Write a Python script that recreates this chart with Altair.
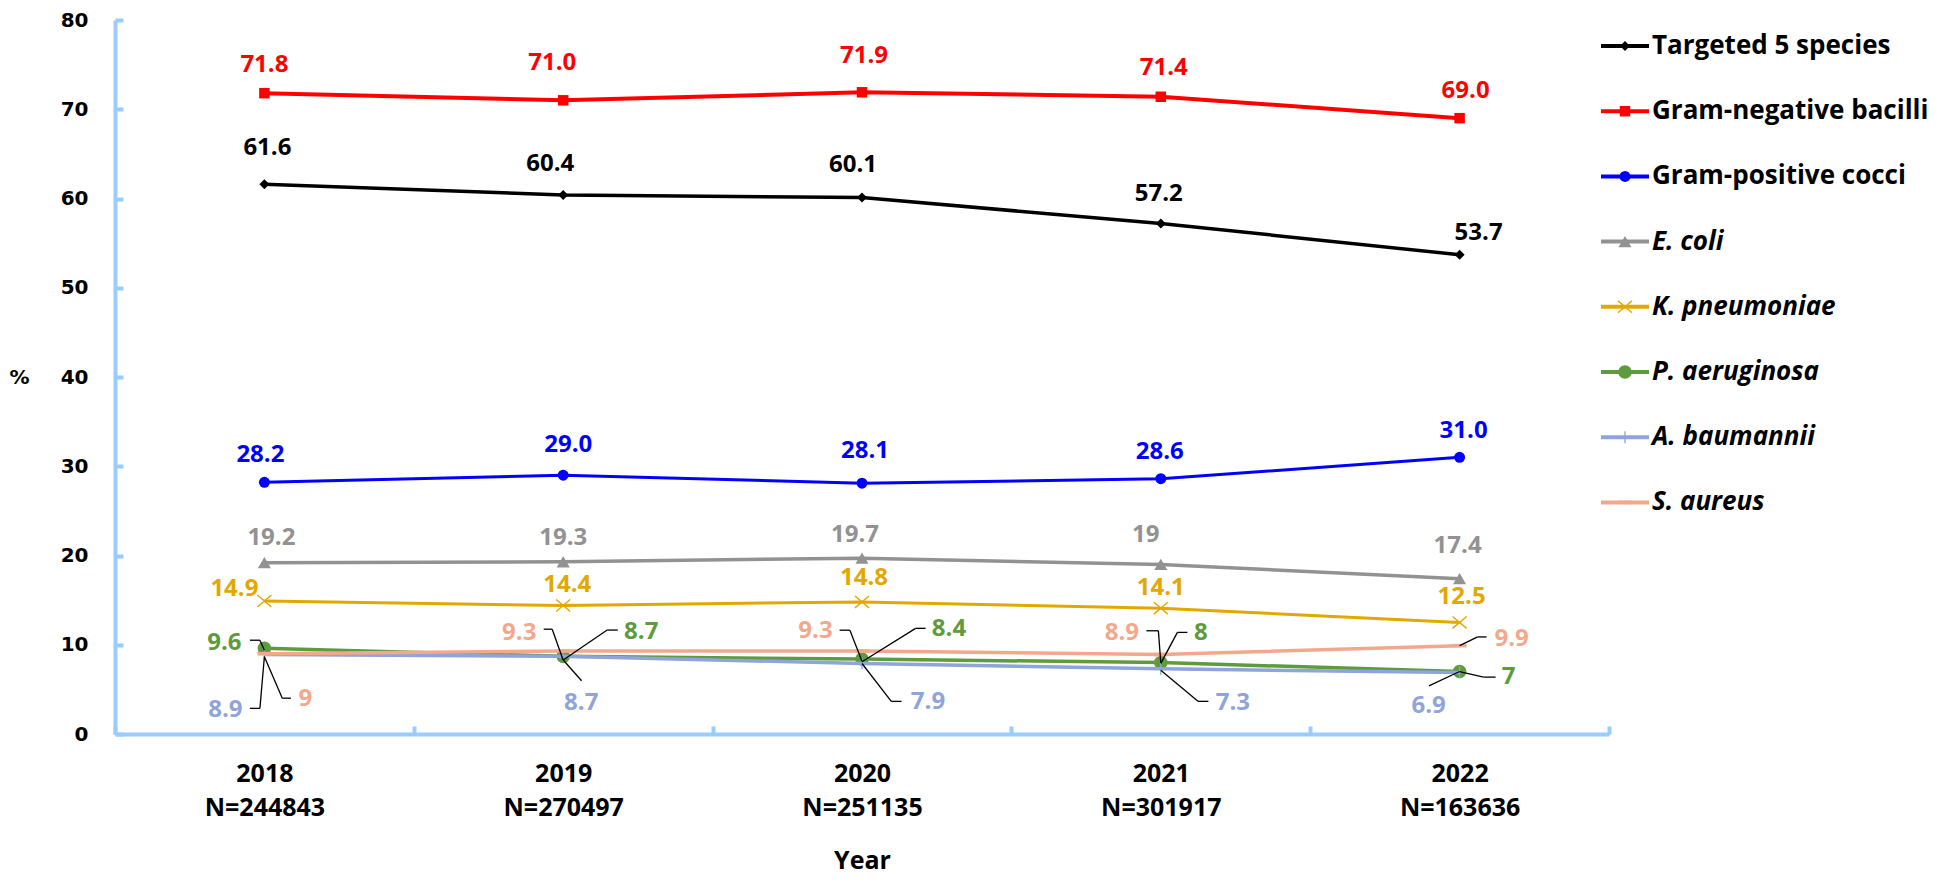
import json
import altair as alt
import pandas as pd

# ---------------- data ----------------
years = ["2018", "2019", "2020", "2021", "2022"]
n_counts = ["N=244843", "N=270497", "N=251135", "N=301917", "N=163636"]

series_names = ["Targeted 5 species", "Gram-negative bacilli", "Gram-positive cocci",
                "E. coli", "K. pneumoniae", "P. aeruginosa", "A. baumannii", "S. aureus"]

targeted_5 = [61.6, 60.4, 60.1, 57.2, 53.7]
gram_negative = [71.8, 71.0, 71.9, 71.4, 69.0]
gram_positive = [28.2, 29.0, 28.1, 28.6, 31.0]
e_coli = [19.2, 19.3, 19.7, 19.0, 17.4]
k_pneumoniae = [14.9, 14.4, 14.8, 14.1, 12.5]
p_aeruginosa = [9.6, 8.7, 8.4, 8.0, 7.0]
a_baumannii = [8.9, 8.7, 7.9, 7.3, 6.9]
s_aureus = [9.0, 9.3, 9.3, 8.9, 9.9]

series_values = [targeted_5, gram_negative, gram_positive, e_coli,
                 k_pneumoniae, p_aeruginosa, a_baumannii, s_aureus]
one_decimal_series = ["Targeted 5 species", "Gram-negative bacilli", "Gram-positive cocci"]
italic_series = ["E. coli", "K. pneumoniae", "P. aeruginosa", "A. baumannii", "S. aureus"]

y_ticks = [0, 10, 20, 30, 40, 50, 60, 70, 80]

# ---------------- layout / style ----------------
W, H = 1494, 714
PPX = W / len(years)
PPY = H / 80.0

colors = ["#000000", "#FF0000", "#0000FF", "#929292", "#E3A800", "#5E9B3C", "#8EA4DA", "#F3A88C"]
line_widths = [3.5, 4, 3, 3.5, 3, 3.5, 3.5, 3.5]
marker_shapes = ["diamond", "square", "circle", "triangle-up",
                 "M-1,-0.85L1,0.85M-1,0.85L1,-0.85", "circle",
                 "M-1,0L1,0M0,-1L0,1", "M-1,0L1,0"]
marker_sizes = [100, 110, 120, 170, 196, 185, 144, 196]
marker_filled = [True, True, True, True, False, True, False, False]
marker_strokes = [1, 1, 1, 1, 1.4, 1, 1.3, 3.5]

# label centre offsets in screen px (dx right, dy down) relative to each point
label_offsets = {
    "Targeted 5 species": [(3, -36), (-13, -31), (-9, -32.5), (-2, -29), (19, -22)],
    "Gram-negative bacilli": [(0, -28), (-11, -37), (2, -36), (3, -29), (6, -27)],
    "Gram-positive cocci": [(-4, -27), (5, -30), (3, -32), (-1, -27), (4, -26)],
    "E. coli": [(7, -25), (0, -24), (-7, -23), (-15, -29), (-2, -33)],
    "K. pneumoniae": [(-30, -12), (4, -20), (2, -24), (0, -20), (2, -25)],
    "P. aeruginosa": [(-40, -5), (78, -24), (87, -30), (40, -30), (49, 5.6)],
    "A. baumannii": [(-39, 55.5), (18, 47), (66, 38.5), (72, 34), (-31, 34)],
    "S. aureus": [(41, 45), (-44, -18), (-46.5, -20), (-39, -22), (52, -7)],
}
# leader lines: (label end A, elbow B, end P) offsets in screen px relative to each point
leader_offsets = {
    "P. aeruginosa": [((-14.5, -8.1), (-4.5, -8.1), (0, 1.9)),
                      ((54.6, -26.3), (44, -26.3), (0, 3.7)),
                      ((63.6, -30.7), (53.6, -30.7), (0, 2.7)),
                      ((26.6, -30.2), (16.6, -30.2), (0, 0.8)),
                      ((36, 5.6), (24, 5.6), (0, 0))],
    "A. baumannii": [((-14.5, 53.8), (-4.5, 53.8), (0, 2)),
                     ((18.4, 24.4), (18.4, 24.4), (0, 3.7)),
                     ((39.6, 37.9), (29.3, 37.9), (0, 0)),
                     ((47.6, 32.5), (37.2, 32.5), (0, 1.4)),
                     ((-30.7, 13.4), (-30.7, 13.4), (0, -0.9))],
    "S. aureus": [((26.5, 44.5), (17.9, 44.5), (0, 3)),
                  ((-19.5, -21.8), (-11, -21.8), (0, 9.2)),
                  ((-22.4, -20.8), (-12.1, -20.8), (0, 10.2)),
                  ((-14.4, -23.8), (-2.4, -23.8), (0, 8.5)),
                  ((27, -8.7), (18, -8.7), (0, 0))],
}

AXIS_BLUE = "#99CCFF"
LABEL_FONT = "Open Sans"

# ---------------- tables ----------------
rows = []
for s, vals in zip(series_names, series_values):
    for i, v in enumerate(vals):
        txt = f"{v:.1f}" if s in one_decimal_series else f"{v:g}"
        dx, dy = label_offsets[s][i]
        rows.append(dict(series=s, idx=i, value=v, text=txt,
                         lx=i + dx / PPX, ly=v - dy / PPY))
df = pd.DataFrame(rows)

lrows = []
for s, vals in zip(series_names, series_values):
    if s not in leader_offsets:
        continue
    for i, v in enumerate(vals):
        (ax, ay), (bx, by), (px, py) = leader_offsets[s][i]
        lrows.append(dict(series=s,
                          xa=i + ax / PPX, ya=v - ay / PPY,
                          xb=i + bx / PPX, yb=v - by / PPY,
                          xp=i + px / PPX, yp=v - py / PPY))
leaders = pd.DataFrame(lrows)

legend_df = pd.DataFrame(dict(series=series_names,
                              italic=[s in italic_series for s in series_names]))

# ---------------- scales / axes ----------------
label_pairs = [[y, n] for y, n in zip(years, n_counts)] + [[""]]
x_label_expr = json.dumps(label_pairs) + "[round(datum.value + 0.5)]"

x_scale = alt.Scale(domain=[-0.5, len(years) - 0.5], nice=False, zero=False)
y_scale = alt.Scale(domain=[0, 80], nice=False, zero=True)

x_axis = alt.Axis(
    values=[i - 0.5 for i in range(len(years) + 1)],
    labelExpr=x_label_expr, labelOffset=PPX / 2,
    labelFont=LABEL_FONT, labelFontSize=25, labelFontWeight="bold", labelColor="black",
    labelLineHeight=34, labelPadding=35, labelFlush=False, labelOverlap=False,
    labelAlign="center", labelBaseline="top",
    domainColor=AXIS_BLUE, domainWidth=4, tickColor=AXIS_BLUE, tickWidth=4,
    tickSize={"expr": "-8"}, grid=False,
    title="Year", titleFont=LABEL_FONT, titleFontSize=25, titleFontWeight="bold",
    titleColor="black", titlePadding=28,
)
y_axis = alt.Axis(
    values=y_ticks, format="d",
    labelFont="DejaVu Sans", labelFontSize=20, labelFontWeight="bold", labelColor="black",
    labelPadding=35,
    domainColor=AXIS_BLUE, domainWidth=4, tickColor=AXIS_BLUE, tickWidth=4,
    tickSize={"expr": "-8"}, grid=False,
    title="%", titleFont="DejaVu Sans", titleFontSize=20, titleFontWeight="bold",
    titleColor="black", titleAngle=0, titleX=-96, titleY=H / 2,
    titleAlign="center", titleBaseline="middle",
)


def xenc(field):
    return alt.X(f"{field}:Q", scale=x_scale, axis=x_axis)


def yenc(field):
    return alt.Y(f"{field}:Q", scale=y_scale, axis=y_axis)


color_enc = alt.Color("series:N", scale=alt.Scale(domain=series_names, range=colors), legend=None)

# ---------------- main layers ----------------
main_layers = []
for k, s in enumerate(series_names):
    base = alt.Chart(df).transform_filter(alt.datum.series == s)
    main_layers.append(base.mark_line(color=colors[k], strokeWidth=line_widths[k])
                       .encode(x=xenc("idx"), y=yenc("value")))
    pt_kwargs = dict(shape=marker_shapes[k], size=marker_sizes[k], opacity=1,
                     filled=marker_filled[k], strokeWidth=marker_strokes[k])
    if marker_filled[k]:
        pt_kwargs["fill"] = colors[k]
    else:
        pt_kwargs["stroke"] = colors[k]
    main_layers.append(base.mark_point(**pt_kwargs).encode(x=xenc("idx"), y=yenc("value")))

main_layers.append(
    alt.Chart(leaders).mark_rule(color="black", strokeWidth=1.3)
    .encode(x=xenc("xa"), x2="xb:Q", y=yenc("ya"), y2="yb:Q"))
main_layers.append(
    alt.Chart(leaders).mark_rule(color="black", strokeWidth=1.3)
    .encode(x=xenc("xb"), x2="xp:Q", y=yenc("yb"), y2="yp:Q"))
main_layers.append(
    alt.Chart(df).mark_text(font=LABEL_FONT, fontSize=24, fontWeight="bold",
                            align="center", baseline="middle")
    .encode(x=xenc("lx"), y=yenc("ly"), text="text:N", color=color_enc))

main = alt.layer(*main_layers)

# ---------------- legend layers ----------------
LEG_Y0, LEG_STEP = 26, 65.2
leg_y = alt.Y("series:N", sort=series_names,
              scale=alt.Scale(type="point", domain=series_names,
                              range=[LEG_Y0, LEG_Y0 + (len(series_names) - 1) * LEG_STEP],
                              padding=0),
              axis=None)

legend_layers = [
    alt.Chart(legend_df).mark_rule(strokeWidth=4)
    .encode(x=alt.value(1486), x2=alt.value(1534), y=leg_y, color=color_enc)
]
for k, s in enumerate(series_names):
    pt_kwargs = dict(shape=marker_shapes[k], size=marker_sizes[k], opacity=1,
                     filled=marker_filled[k], strokeWidth=marker_strokes[k])
    if marker_filled[k]:
        pt_kwargs["fill"] = colors[k]
    else:
        pt_kwargs["stroke"] = colors[k]
    legend_layers.append(
        alt.Chart(legend_df).transform_filter(alt.datum.series == s)
        .mark_point(**pt_kwargs).encode(x=alt.value(1510), y=leg_y))
for ital in [False, True]:
    legend_layers.append(
        alt.Chart(legend_df).transform_filter(alt.datum.italic == ital)
        .mark_text(align="left", baseline="middle", font=LABEL_FONT, fontSize=26,
                   fontWeight="bold", fontStyle="italic" if ital else "normal", color="black",
                   limit=280, ellipsis="")
        .encode(x=alt.value(1537), y=leg_y, text="series:N"))

legend = alt.layer(*legend_layers)

chart = (
    alt.layer(main, legend)
    .resolve_scale(y="independent")
    .properties(width=W, height=H,
                padding={"top": 2, "left": 0, "right": 0, "bottom": 8})
    .configure_view(stroke=None)
)

chart.save("out.html", embed_options={"renderer": "svg", "actions": False})
